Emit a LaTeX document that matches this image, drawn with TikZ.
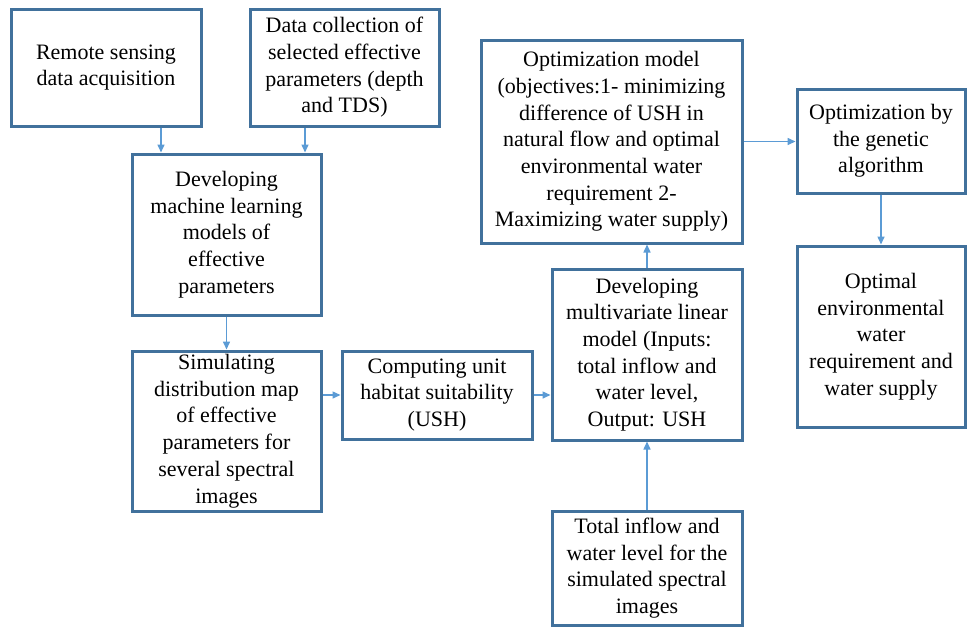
\documentclass[tikz,border=0pt]{standalone}
\usepackage{fontspec}
\setmainfont{Liberation Serif}
\usetikzlibrary{arrows.meta}
\definecolor{boxblue}{HTML}{41719C}
\definecolor{arrblue}{HTML}{5B9BD5}
\begin{document}
\begin{tikzpicture}[x=1pt,y=-1pt,
  box/.style={draw=boxblue, line width=3pt, fill=white, align=center, inner sep=0pt,
    font=\fontsize{22}{26.7}\selectfont},
  arr/.style={draw=arrblue, line width=1.5pt, -{Triangle[length=8pt,width=7pt]}}]
\useasboundingbox (0,0) rectangle (968,627);
\node[box, minimum width=190, minimum height=117] (b1) at (106,67.5) {Remote sensing\\data acquisition};
\node[box, minimum width=189, minimum height=117] (b2) at (344.5,67.5) {Data collection of\\selected effective\\parameters (depth\\and TDS)};
\node[box, minimum width=189, minimum height=161] (b3) at (226.5,234.5) {Developing\\machine learning\\models of\\effective\\parameters};
\node[box, minimum width=261, minimum height=203] (b4) at (611.5,141.5) {Optimization model\\(objectives:1- minimizing\\difference of USH in\\natural flow and optimal\\environmental water\\requirement 2-\\Maximizing water supply)};
\node[box, minimum width=168, minimum height=104] (b5) at (881,141) {Optimization by\\the genetic\\algorithm};
\node[box, minimum width=168, minimum height=181] (b6) at (881,336.5) {Optimal\\environmental\\water\\requirement and\\water supply};
\node[box, minimum width=190, minimum height=171] (b7) at (647,354.5) {Developing\\multivariate linear\\model (Inputs:\\total inflow and\\water level,\\Output: USH};
\node[box, minimum width=190, minimum height=114] (b8) at (647,568) {Total inflow and\\water level for the\\simulated spectral\\images};
\node[box, minimum width=189, minimum height=160] (b9) at (226.5,431) {Simulating\\distribution map\\of effective\\parameters for\\several spectral\\images};
\node[box, minimum width=190, minimum height=88] (b10) at (437,395) {Computing unit\\habitat suitability\\(USH)};
\coordinate (x1) at (161,0);
\coordinate (x2) at (305,0);
\draw[arr] (b1.south -| x1) -- (b3.north -| x1);
\draw[arr] (b2.south -| x2) -- (b3.north -| x2);
\draw[arr] (b3.south) -- (b9.north);
\draw[arr] (b9.east |- b10.west) -- (b10.west);
\draw[arr] (b10.east) -- (b10.east -| b7.west);
\draw[arr] (b8.north) -- (b7.south);
\draw[arr] (b7.north) -- (b7.north |- b4.south);
\draw[arr] (b4.east) -- (b4.east -| b5.west);
\draw[arr] (b5.south) -- (b6.north);
\end{tikzpicture}
\end{document}
